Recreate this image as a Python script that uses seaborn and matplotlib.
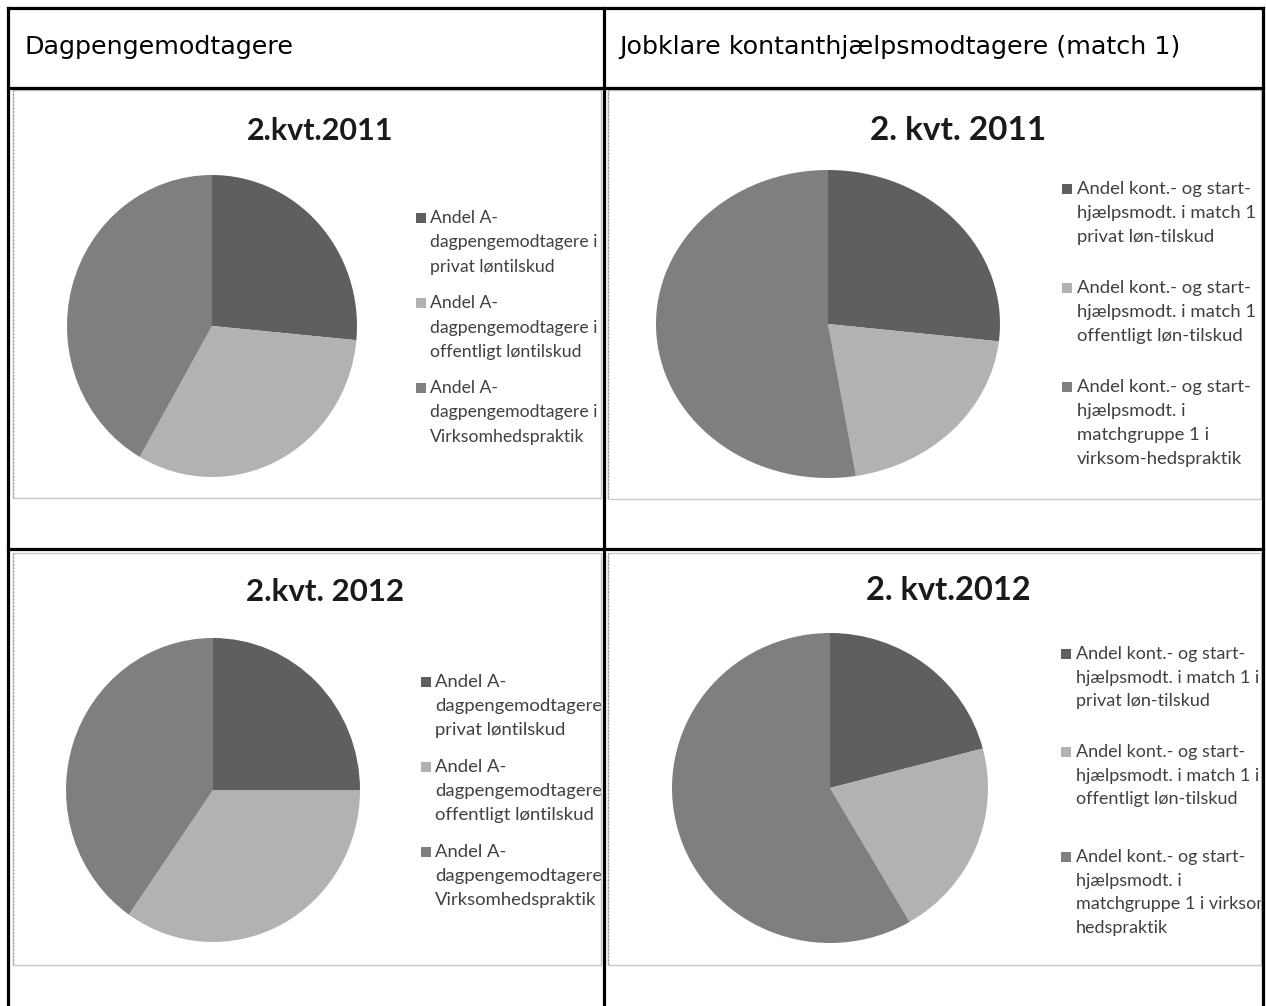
import numpy as np
import pandas as pd
import seaborn as sns
import matplotlib
matplotlib.use("Agg")
import matplotlib.pyplot as plt
from matplotlib.lines import Line2D
from matplotlib.patches import Rectangle

sns.set_theme(style="white")
plt.rcParams['font.family'] = ['DejaVu Sans']

W, H = 1266, 1006

# data (shares, percent)
header_left = "Dagpengemodtagere"
header_right = "Jobklare kontanthjælpsmodtagere (match 1)"

titles = ["2.kvt.2011", "2. kvt. 2011", "2.kvt. 2012", "2. kvt.2012"]

dp_2011 = [26.5, 31.8, 41.7]
kh_2011 = [26.8, 20.6, 52.6]
dp_2012 = [25.0, 34.7, 40.3]
kh_2012 = [20.9, 20.7, 58.4]

labels_dp_2011 = ["Andel A-\ndagpengemodtagere i\nprivat løntilskud",
                  "Andel A-\ndagpengemodtagere i\noffentligt løntilskud",
                  "Andel A-\ndagpengemodtagere i\nVirksomhedspraktik"]
labels_kh_2011 = ["Andel kont.- og start-\nhjælpsmodt. i match 1\nprivat løn-tilskud",
                  "Andel kont.- og start-\nhjælpsmodt. i match 1\noffentligt løn-tilskud",
                  "Andel kont.- og start-\nhjælpsmodt. i\nmatchgruppe 1 i\nvirksom-hedspraktik"]
labels_dp_2012 = ["Andel A-\ndagpengemodtagere\nprivat løntilskud",
                  "Andel A-\ndagpengemodtagere\noffentligt løntilskud",
                  "Andel A-\ndagpengemodtagere\nVirksomhedspraktik"]
labels_kh_2012 = ["Andel kont.- og start-\nhjælpsmodt. i match 1 i\nprivat løn-tilskud",
                  "Andel kont.- og start-\nhjælpsmodt. i match 1 i\noffentligt løn-tilskud",
                  "Andel kont.- og start-\nhjælpsmodt. i\nmatchgruppe 1 i virksom-\nhedspraktik"]

colors = sns.color_palette(["#5f5f5f", "#b2b2b2", "#7f7f7f"])


def fx(x):
    return x / W


def fy(y):
    return 1 - y / H


fig = plt.figure(figsize=(W / 100, H / 100), dpi=100)
fig.patch.set_facecolor("white")


def panel(box, title, tsize, title_x, title_y, cx, cy, rx, ry, values, labels,
          mark_x, text_x, first_lines, step, lsize):
    x0, y0, x1, y1 = box
    bax = fig.add_axes([fx(x0), fy(y1), (x1 - x0) / W, (y1 - y0) / H])
    bax.set_axis_off()
    fig.add_artist(Rectangle((fx(x0), fy(y1)), (x1 - x0) / W, (y1 - y0) / H,
                             transform=fig.transFigure, fill=False,
                             edgecolor="#c8c8c8", lw=1.0))
    fig.add_artist(Line2D([fx(x0), fx(x0)], [fy(y0), fy(y1)], transform=fig.transFigure,
                          color="#9a9a9a", lw=1.0, ls=(0, (1, 1.5))))

    bax.text(fx(title_x), fy(title_y), title, transform=fig.transFigure,
             ha="center", va="center", fontsize=tsize, fontweight="bold",
             family=["Lato", "DejaVu Sans"], color="#1a1a1a", clip_on=True)

    pax = fig.add_axes([fx(cx - rx), fy(cy + ry), 2 * rx / W, 2 * ry / H])
    pax.pie(values, colors=colors, startangle=90, counterclock=False,
            radius=1, wedgeprops=dict(linewidth=0))
    pax.set_xlim(-1, 1)
    pax.set_ylim(-1, 1)
    pax.set_aspect("auto")
    pax.set_axis_off()

    for lab, col, y_first in zip(labels, colors, first_lines):
        sq = 10
        fig.add_artist(Rectangle((fx(mark_x), fy(y_first + sq / 2)), sq / W, sq / H,
                                 transform=fig.transFigure, facecolor=col,
                                 edgecolor="none"))
        for i, line in enumerate(lab.split("\n")):
            bax.text(fx(text_x), fy(y_first + i * step), line,
                     transform=fig.transFigure, ha="left", va="center",
                     fontsize=lsize, family=["Lato", "DejaVu Sans"],
                     color="#404040", clip_on=True)


panel((13, 90, 601, 498), titles[0], 22, 320, 131, 212, 326, 145, 151, dp_2011,
      labels_dp_2011, 416, 430, [218, 303, 388], 24.5, 12.7)
panel((608, 90, 1261, 499), titles[1], 24, 958, 130, 828, 324, 172, 154, kh_2011,
      labels_kh_2011, 1062, 1077, [189, 288, 387], 24, 13.3)
panel((13, 553, 601, 965), titles[2], 22.5, 325, 592, 213, 790, 147, 152, dp_2012,
      labels_dp_2012, 421, 435, [682, 767, 852], 24.2, 13.3)
panel((608, 553, 1261, 965), titles[3], 23.5, 948, 590, 830, 788, 158, 155, kh_2012,
      labels_kh_2012, 1061, 1076, [654, 752, 857], 23.7, 13.0)

# table grid
lw = 2.3
grid = [((8, 8), (8, 1006)), ((1263, 8), (1263, 1006)), ((604, 8), (604, 1006)),
        ((8, 8), (1263, 8)), ((8, 88), (1263, 88)), ((8, 549), (1263, 549))]
for (xa, ya), (xb, yb) in grid:
    fig.add_artist(Line2D([fx(xa), fx(xb)], [fy(ya), fy(yb)], transform=fig.transFigure,
                          color="black", lw=lw, solid_capstyle="projecting"))

fig.text(fx(24), fy(47), header_left, ha="left", va="center", fontsize=18.3, color="black")
fig.text(fx(619), fy(47), header_right, ha="left", va="center", fontsize=18.3, color="black")

fig.savefig("out.png", dpi=100)
